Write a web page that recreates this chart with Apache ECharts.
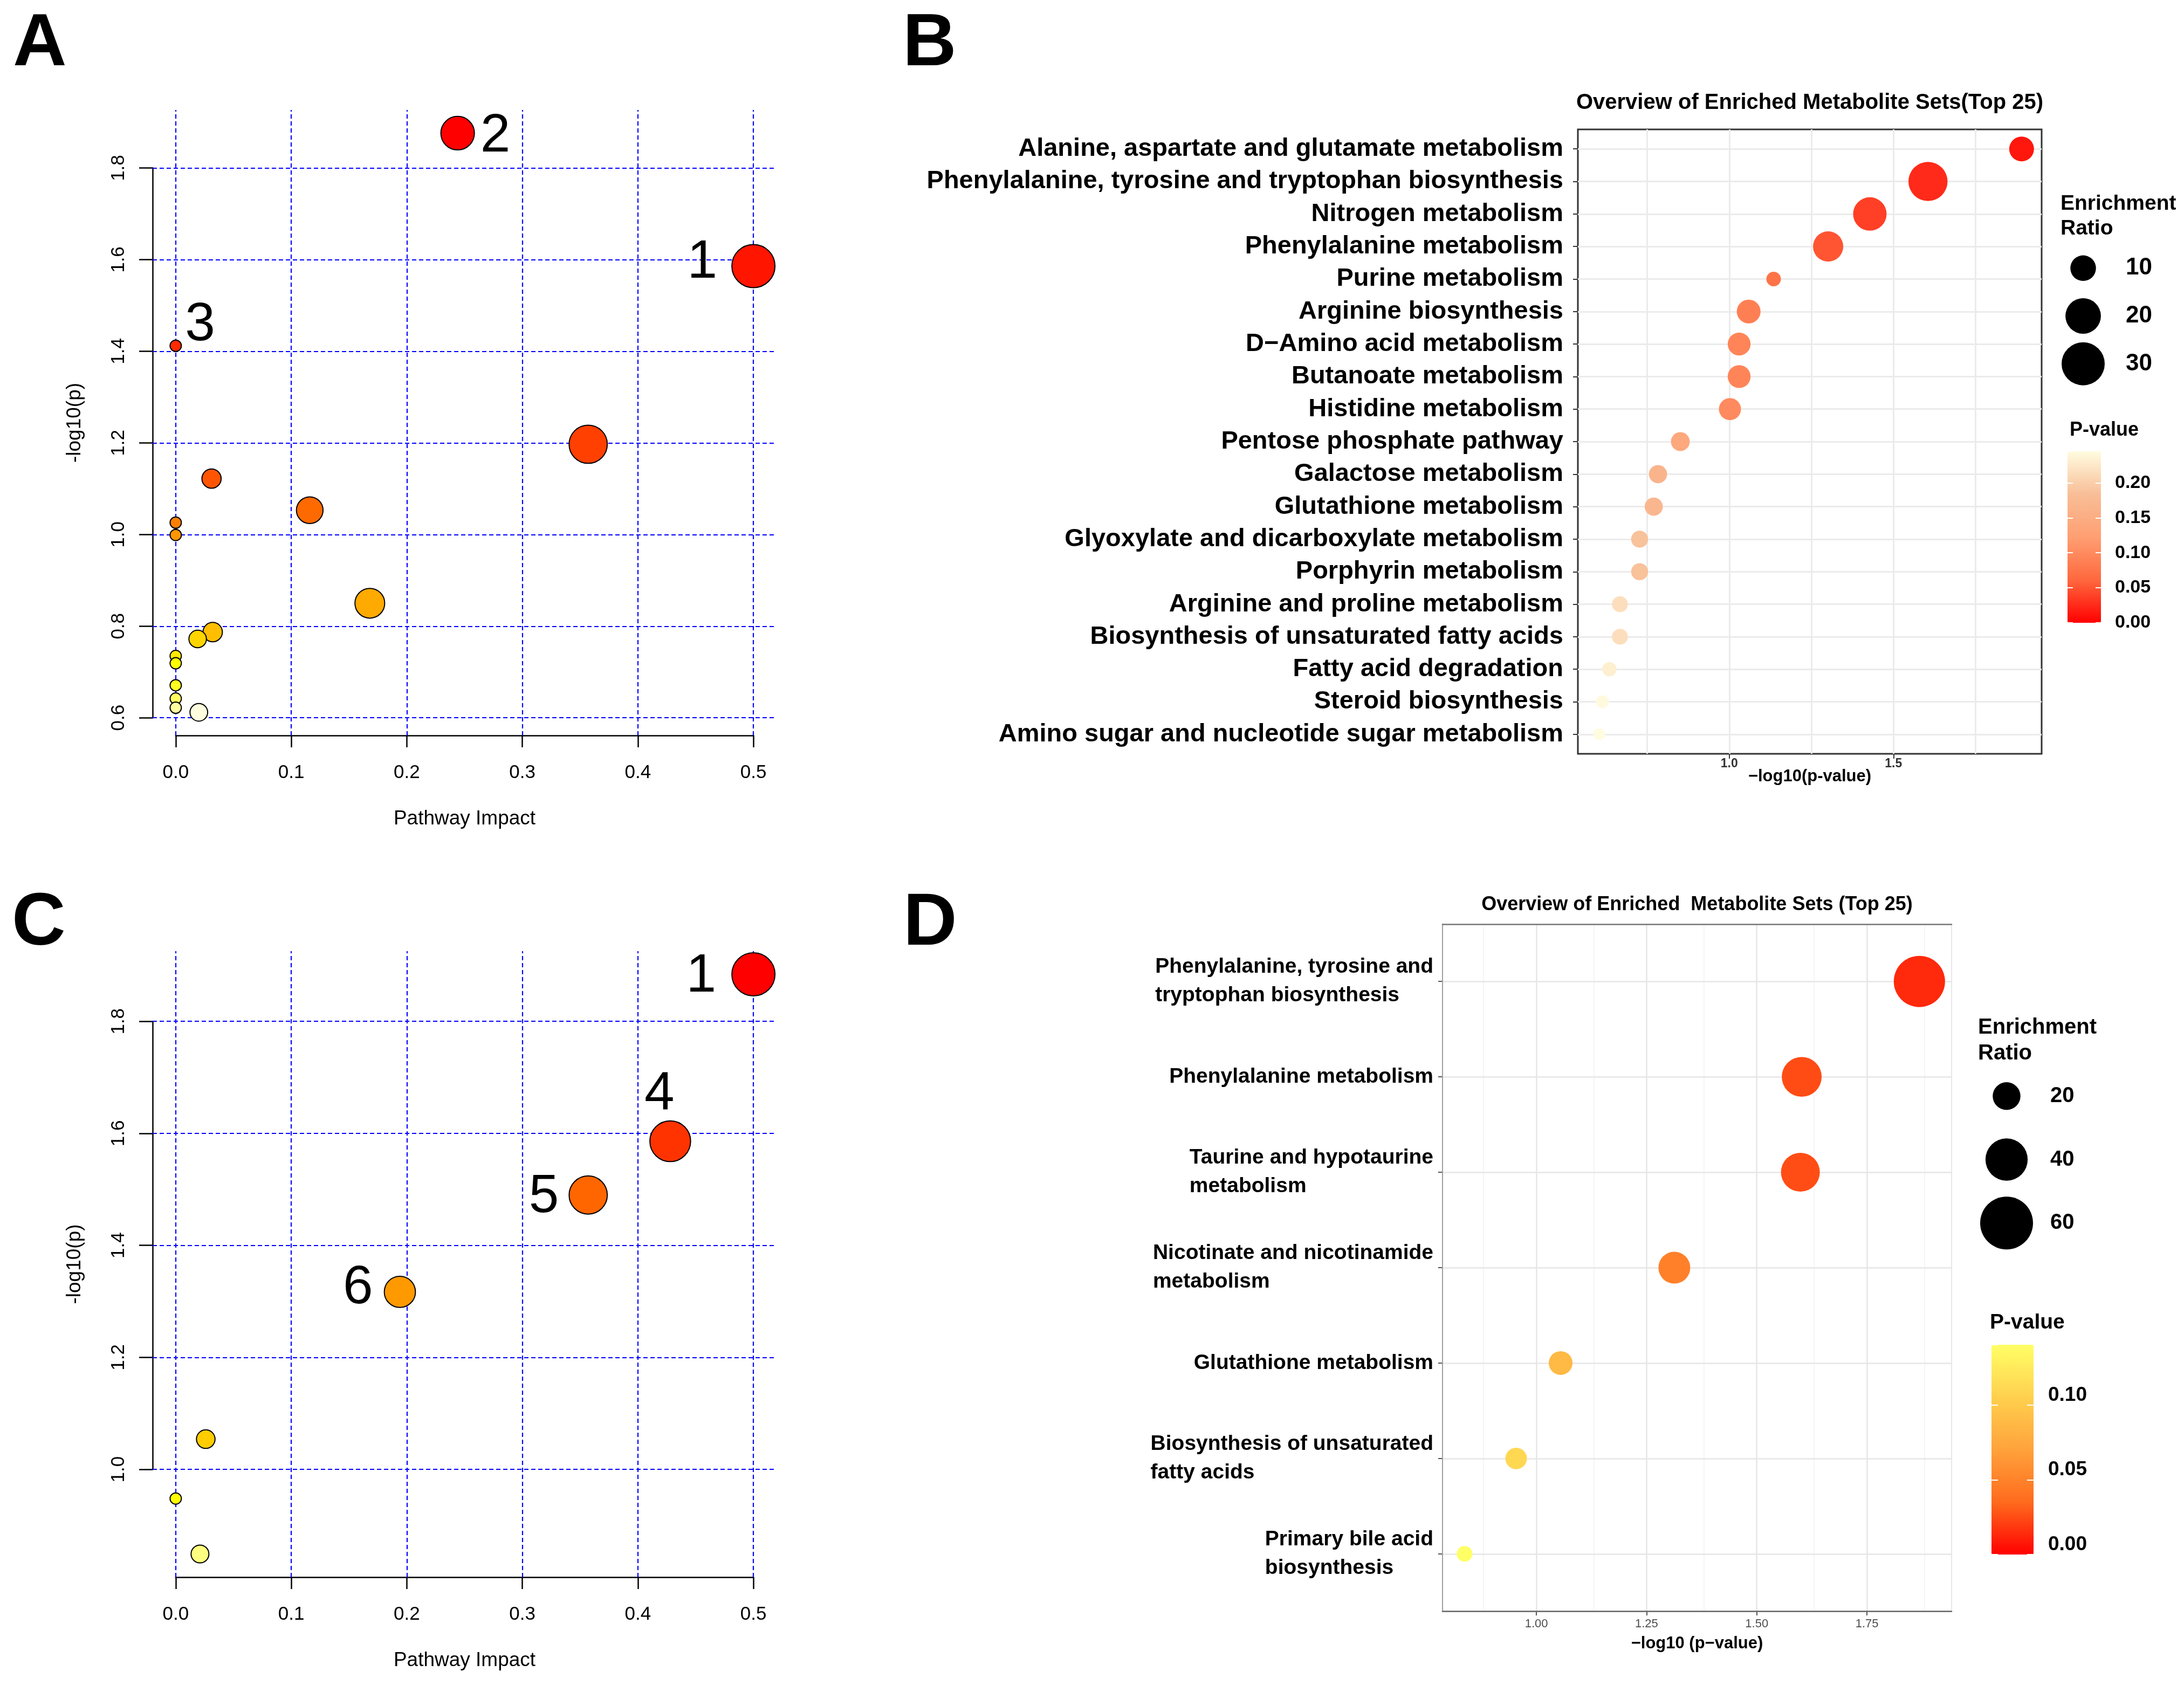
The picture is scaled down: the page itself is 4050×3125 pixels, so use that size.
<!DOCTYPE html>
<html>
<head>
<meta charset="utf-8">
<script src="https://cdn.jsdelivr.net/npm/echarts@6/dist/echarts.min.js"></script>
<style>
html,body{margin:0;padding:0;background:#fff;}
#c{width:4050px;height:3125px;}
</style>
</head>
<body>
<div id="c"></div>
<script>
// ================= DATA =================
// Panel A : pathway impact plot
const impactA = [0.500, 0.244, 0.000, 0.357, 0.031, 0.116, 0.000, 0.000, 0.168, 0.032, 0.019, 0.000, 0.000, 0.000, 0.000, 0.000, 0.020];
const logpA   = [1.586, 1.876, 1.412, 1.197, 1.122, 1.053, 1.026, 0.999, 0.850, 0.787, 0.772, 0.735, 0.719, 0.671, 0.642, 0.622, 0.612];
const tagA    = ['1', '2', '3', '', '', '', '', '', '', '', '', '', '', '', '', '', ''];
const xTicksA = [0.0, 0.1, 0.2, 0.3, 0.4, 0.5];
const yTicksA = [0.6, 0.8, 1.0, 1.2, 1.4, 1.6, 1.8];

// Panel C : pathway impact plot
const impactC = [0.500, 0.428, 0.357, 0.194, 0.026, 0.000, 0.021];
const logpC   = [1.884, 1.586, 1.490, 1.317, 1.054, 0.948, 0.849];
const tagC    = ['1', '4', '5', '6', '', '', ''];
const xTicksC = [0.0, 0.1, 0.2, 0.3, 0.4, 0.5];
const yTicksC = [1.0, 1.2, 1.4, 1.6, 1.8];

// Panel B : enrichment overview
const catsB = [
  'Alanine, aspartate and glutamate metabolism',
  'Phenylalanine, tyrosine and tryptophan biosynthesis',
  'Nitrogen metabolism',
  'Phenylalanine metabolism',
  'Purine metabolism',
  'Arginine biosynthesis',
  'D\u2212Amino acid metabolism',
  'Butanoate metabolism',
  'Histidine metabolism',
  'Pentose phosphate pathway',
  'Galactose metabolism',
  'Glutathione metabolism',
  'Glyoxylate and dicarboxylate metabolism',
  'Porphyrin metabolism',
  'Arginine and proline metabolism',
  'Biosynthesis of unsaturated fatty acids',
  'Fatty acid degradation',
  'Steroid biosynthesis',
  'Amino sugar and nucleotide sugar metabolism'
];
const logpB  = [1.890, 1.605, 1.428, 1.301, 1.135, 1.059, 1.030, 1.030, 1.002, 0.851, 0.783, 0.770, 0.727, 0.727, 0.667, 0.667, 0.635, 0.614, 0.604];
const ratioB = [9.3, 24.5, 17.7, 14.3, 2.6, 8.5, 7.8, 7.8, 7.2, 5.0, 4.6, 4.6, 3.9, 3.9, 3.3, 3.3, 2.5, 1.9, 1.4];
const xLabelsB  = [1.0, 1.5];
const xGridB    = [0.75, 1.0, 1.25, 1.5, 1.75];
const sizeKeysB = [10, 20, 30];
const pTicksB   = [0.00, 0.05, 0.10, 0.15, 0.20];

// Panel D : enrichment overview
const catsD = [
  'Phenylalanine, tyrosine and\ntryptophan biosynthesis',
  'Phenylalanine metabolism',
  'Taurine and hypotaurine\nmetabolism',
  'Nicotinate and nicotinamide\nmetabolism',
  'Glutathione metabolism',
  'Biosynthesis of unsaturated\nfatty acids',
  'Primary bile acid\nbiosynthesis'
];
const logpD  = [1.869, 1.602, 1.599, 1.313, 1.055, 0.954, 0.837];
const ratioD = [56.7, 36.2, 34.6, 24.8, 15.9, 13.9, 9.6];
const xLabelsD     = [1.00, 1.25, 1.50, 1.75];
const xGridMajorD  = [1.00, 1.25, 1.50, 1.75];
const xGridMinorD  = [0.875, 1.125, 1.375, 1.625, 1.875];
const sizeKeysD    = [20, 40, 60];
const pTicksD      = [0.00, 0.05, 0.10];

// ================= HELPERS =================
const FONT = '"Liberation Sans", Arial, Helvetica, sans-serif';
const grids = [], xAxes = [], yAxes = [], series = [], titles = [], visualMaps = [];
function addGrid(g){ grids.push(Object.assign({containLabel:false, outerBoundsMode:'none'}, g)); return grids.length - 1; }
function pushX(a){ xAxes.push(a); return xAxes.length - 1; }
function pushY(a){ yAxes.push(a); return yAxes.length - 1; }
function pushS(s){ series.push(s); return series.length - 1; }
function ext(arr, f){ const mn = Math.min(...arr), mx = Math.max(...arr), d = (mx - mn) * f; return [mn - d, mx + d]; }
const step = t => +(t[1] - t[0]).toFixed(6);
const hidden = {axisLine:{show:false, onZero:false}, axisTick:{show:false}, axisLabel:{show:false}, splitLine:{show:false}};

function hsv2hex(h, s, v){
  const i = Math.floor(h * 6), f = h * 6 - i;
  const p = v * (1 - s), q = v * (1 - f * s), t = v * (1 - (1 - f) * s);
  let r, g, b;
  switch (i % 6){
    case 0: r=v; g=t; b=p; break; case 1: r=q; g=v; b=p; break;
    case 2: r=p; g=v; b=t; break; case 3: r=p; g=q; b=v; break;
    case 4: r=t; g=p; b=v; break; default: r=v; g=p; b=q;
  }
  return '#' + [r, g, b].map(x => Math.round(x * 255).toString(16).padStart(2, '0')).join('');
}
// R's heat.colors(n)
function heatColors(n){
  const j = Math.floor(n / 4), i = n - j, cols = [];
  for (let k = 0; k < i; k++) cols.push(hsv2hex(i > 1 ? (k / (i - 1)) / 6 : 0, 1, 1));
  const s0 = 1 - 1 / (2 * j), s1 = 1 / (2 * j);
  for (let k = 0; k < j; k++) cols.push(hsv2hex(1 / 6, j > 1 ? s0 - k * (s0 - s1) / (j - 1) : s0, 1));
  return cols;
}

function addTitle(text, left, top, style, align){
  titles.push({text, left, top, padding:0, textAlign: align || 'left',
    textStyle: Object.assign({fontFamily:FONT, color:'#000', fontWeight:'bold'}, style)});
}
function gridLines(lineStyle, data){
  return {silent:true, animation:false, z:1, symbol:['none','none'], label:{show:false}, emphasis:{disabled:true},
    lineStyle:lineStyle, data:data};
}

// ================= R-STYLE PANELS (A, C) =================
function rPanel(o){
  const L = o.left, T = o.top, W = o.width, H = o.height;
  const xr = ext(o.impact, 0.04), yr = ext(o.logp, 0.04);
  const nameStyle = {fontSize:37, color:'#000', fontFamily:FONT};
  const gP = addGrid({left:L, top:T, width:W, height:H});
  const xP = pushX(Object.assign({gridIndex:gP, type:'value', min:xr[0], max:xr[1],
    name:'Pathway Impact', nameLocation:'middle', nameGap:136, nameTextStyle:nameStyle}, hidden));
  const yP = pushY(Object.assign({gridIndex:gP, type:'value', min:yr[0], max:yr[1],
    name:'-log10(p)', nameLocation:'middle', nameRotate:90, nameGap:126, nameTextStyle:nameStyle}, hidden));

  const px = v => L + (v - xr[0]) / (xr[1] - xr[0]) * W;
  const py = v => T + H - (v - yr[0]) / (yr[1] - yr[0]) * H;
  const xt = o.xTicks, yt = o.yTicks;
  const aL = px(xt[0]), aR = px(xt[xt.length - 1]), aT = py(yt[yt.length - 1]), aB = py(yt[0]);
  const gA = addGrid({left:aL, top:aT, width:aR - aL, height:aB - aT});
  const axLine = {show:true, onZero:false, lineStyle:{color:'#000', width:2.5}};
  pushX({gridIndex:gA, type:'value', min:xt[0], max:xt[xt.length - 1], interval:step(xt), position:'bottom',
    offset:(T + H) - aB, axisLine:axLine,
    axisTick:{show:true, inside:false, length:22, lineStyle:{color:'#000', width:2.5}},
    axisLabel:{margin:52, fontSize:35, lineHeight:35, color:'#000', fontFamily:FONT, formatter:v => v.toFixed(1)},
    splitLine:{show:false}});
  pushY({gridIndex:gA, type:'value', min:yt[0], max:yt[yt.length - 1], interval:step(yt), position:'left',
    offset:aL - L, axisLine:axLine,
    axisTick:{show:true, inside:false, length:25, lineStyle:{color:'#000', width:2.5}},
    axisLabel:{rotate:90, margin:45, fontSize:35, lineHeight:35, color:'#000', fontFamily:FONT, formatter:v => v.toFixed(1)},
    splitLine:{show:false}});

  // dotted blue grid
  pushS({type:'scatter', xAxisIndex:xP, yAxisIndex:yP, data:[], z:1, silent:true,
    markLine:gridLines({color:'#0000FF', width:2.2, type:[8, 5], opacity:1},
      [...xt.map(v => ({xAxis:v})), ...yt.map(v => ({yAxis:v}))])});

  // circles: colour by rank of -log10(p) (heat.colors), radius by sqrt(impact)
  const n = o.impact.length;
  const order = [...Array(n).keys()].sort((a, b) => o.logp[b] - o.logp[a]);
  const heat = heatColors(n);
  const sq = o.impact.map(Math.sqrt), smin = Math.min(...sq), smax = Math.max(...sq);
  const rMin = 10.5, rMax = 40;
  const data = order.map((idx, rank) => {
    const r = rMin + (rMax - rMin) * (sq[idx] - smin) / (smax - smin);
    const tag = o.tags[idx];
    const lab = tag ? Object.assign({show:true, formatter:tag}, o.labelPos[tag] || {}) : {show:false};
    return {value:[o.impact[idx], o.logp[idx]], symbolSize:2 * r, itemStyle:{color:heat[rank]}, label:lab};
  });
  pushS({type:'scatter', xAxisIndex:xP, yAxisIndex:yP, clip:false, z:3, silent:true,
    itemStyle:{borderColor:'#000', borderWidth:2, opacity:1},
    label:{fontSize:100, lineHeight:100, color:'#000', fontFamily:FONT},
    emphasis:{disabled:true}, data});
}

rPanel({left:283, top:204, width:1157, height:1160, impact:impactA, logp:logpA, tags:tagA,
  xTicks:xTicksA, yTicks:yTicksA,
  labelPos:{'1':{position:'left', distance:26, offset:[0,-6]},
            '2':{position:'right', distance:10, offset:[0,6]},
            '3':{position:'right', distance:6, offset:[0,-38]}}});
rPanel({left:283, top:1764, width:1157, height:1161, impact:impactC, logp:logpC, tags:tagC,
  xTicks:xTicksC, yTicks:yTicksC,
  labelPos:{'1':{position:'left', distance:28, offset:[0,4]},
            '4':{position:'top', distance:5, offset:[-20,8]},
            '5':{position:'left', distance:18, offset:[0,4]},
            '6':{position:'left', distance:20, offset:[0,-6]}}});

// ================= GGPLOT-STYLE PANELS (B, D) =================
function ggPanel(o){
  const L = o.left, T = o.top, W = o.width, H = o.height, n = o.cats.length;
  const s = H / (n - 1 + 1.2);
  const gO = addGrid({left:L, top:T, width:W, height:H, show:true, borderColor:o.borderColor, borderWidth:o.borderWidth, backgroundColor:'transparent'});
  const xO = pushX({gridIndex:gO, type:'value', min:o.xlim[0], max:o.xlim[1], z:5,
    axisLine:o.bottomLine || {show:false, onZero:false}, axisTick:{show:false}, axisLabel:{show:false}, splitLine:{show:false},
    name:o.xName, nameLocation:'middle', nameGap:o.xNameGap, nameTextStyle:o.xNameStyle});
  if (o.topLine) pushX(Object.assign({gridIndex:gO, type:'value', min:o.xlim[0], max:o.xlim[1], position:'top', z:5}, hidden, {axisLine:o.topLine}));
  const yO = pushY(Object.assign({gridIndex:gO, type:'value', min:0, max:1, z:5}, hidden, o.leftLine ? {axisLine:o.leftLine} : {}));
  // vertical grid lines
  const vLines = [];
  (o.gridMinor || []).forEach(v => vLines.push({xAxis:v, lineStyle:o.minorStyle}));
  o.gridMajor.forEach(v => vLines.push({xAxis:v, lineStyle:o.majorStyle}));
  pushS({type:'scatter', xAxisIndex:xO, yAxisIndex:yO, data:[], z:1, silent:true,
    markLine:gridLines(o.majorStyle, vLines)});

  // inner category grid
  const gI = addGrid({left:L, top:T + 0.1 * s, width:W, height:n * s});
  const xI = pushX(Object.assign({gridIndex:gI, type:'value', min:o.xlim[0], max:o.xlim[1]}, hidden));
  const yI = pushY({gridIndex:gI, type:'category', data:o.cats, inverse:true, boundaryGap:true,
    axisLine:{show:false, onZero:false},
    axisTick:{show:true, alignWithLabel:true, inside:false, length:o.tickLen, lineStyle:{color:o.tickColor, width:2}},
    axisLabel:o.catLabel, splitLine:{show:false}});
  pushS({type:'scatter', xAxisIndex:xI, yAxisIndex:yI, data:[], z:1, silent:true,
    markLine:gridLines(o.majorStyle, o.cats.map((c, i) => ({yAxis:i})))});
  const ptIdx = pushS({type:'scatter', xAxisIndex:xI, yAxisIndex:yI, clip:false, z:3, silent:true,
    symbolSize:v => o.sizeFn(v[3]), itemStyle:{opacity:1}, emphasis:{disabled:true},
    data:o.cats.map((c, i) => [o.logp[i], c, Math.pow(10, -o.logp[i]), o.ratio[i]])});

  // x tick labels
  const px = v => L + (v - o.xlim[0]) / (o.xlim[1] - o.xlim[0]) * W;
  const xl = o.xLabels;
  const gL = addGrid({left:px(xl[0]), top:T, width:px(xl[xl.length - 1]) - px(xl[0]), height:H});
  pushX({gridIndex:gL, type:'value', min:xl[0], max:xl[xl.length - 1], interval:step(xl), position:'bottom',
    axisLine:{show:false, onZero:false}, axisTick:{show:true, inside:false, length:o.tickLen, lineStyle:{color:o.tickColor, width:2}},
    axisLabel:o.xTickLabel, splitLine:{show:false}});
  pushY(Object.assign({gridIndex:gL, type:'value', min:0, max:1}, hidden));

  // size legend
  const k = o.sizeKeys, g = o.sizeLegend;
  const gS = addGrid({left:g.cx - 50, top:g.top, width:100, height:g.height});
  const xS = pushX(Object.assign({gridIndex:gS, type:'value', min:-1, max:1}, hidden));
  const yS = pushY({gridIndex:gS, type:'category', data:k.map(String), inverse:true, position:'right',
    axisLine:{show:false, onZero:false}, axisTick:{show:false}, splitLine:{show:false},
    axisLabel:{margin:g.labelMargin, fontSize:g.fontSize, fontWeight:'bold', color:'#000', fontFamily:FONT, align:'left'}});
  pushS({type:'scatter', xAxisIndex:xS, yAxisIndex:yS, silent:true, clip:false, z:3,
    symbolSize:v => o.sizeFn(v[2]), itemStyle:{color:'#000', opacity:1},
    data:k.map(v => [0, String(v), v])});

  // colour bar
  const cb = o.colorbar;
  visualMaps.push({type:'continuous', seriesIndex:ptIdx, dimension:2, min:0, max:cb.max,
    left:cb.left, top:cb.top, itemWidth:cb.width, itemHeight:cb.height, padding:0,
    calculable:false, realtime:false, hoverLink:false, text:null, orient:'vertical',
    inRange:{color:cb.colors}, outOfRange:{color:cb.colors[cb.colors.length - 1]}});
  const gC = addGrid({left:cb.left, top:cb.top, width:cb.width, height:cb.height});
  pushX(Object.assign({gridIndex:gC, type:'value', min:0, max:1}, hidden));
  const pt = cb.ticks, pi = step(pt);
  const fmt = v => Math.abs(v / pi - Math.round(v / pi)) < 1e-6 && v <= pt[pt.length - 1] + 1e-9 ? v.toFixed(2) : '';
  const whiteTick = {show:true, inside:true, length:cb.tickLen, lineStyle:{color:'#fff', width:2}};
  pushY({gridIndex:gC, type:'value', min:0, max:cb.max, interval:pi, position:'right', z:10,
    axisLine:{show:false, onZero:false}, axisTick:whiteTick, splitLine:{show:false},
    axisLabel:Object.assign({margin:cb.labelMargin, fontSize:cb.fontSize, fontWeight:'bold', color:'#000', fontFamily:FONT,
      formatter:fmt, showMaxLabel:false}, cb.labelExtra || {})});
  pushY({gridIndex:gC, type:'value', min:0, max:cb.max, interval:pi, position:'left', z:10,
    axisLine:{show:false, onZero:false}, axisTick:whiteTick, axisLabel:{show:false}, splitLine:{show:false}});
}

// ---- Panel B
ggPanel({
  left:2926, top:240, width:860, height:1158, xlim:[0.539, 1.951],
  cats:catsB, logp:logpB, ratio:ratioB,
  sizeFn:er => Math.sqrt(186 + 207 * er),
  borderColor:'#333', borderWidth:3,
  gridMajor:xGridB, majorStyle:{color:'#EBEBEB', width:3, type:'solid'},
  xName:'\u2212log10(p-value)', xNameGap:27, xNameStyle:{fontSize:31, fontWeight:'bold', color:'#000', fontFamily:FONT},
  tickLen:9, tickColor:'#333',
  catLabel:{interval:0, margin:27, fontSize:47, fontWeight:'bold', color:'#000', fontFamily:FONT},
  xLabels:xLabelsB,
  xTickLabel:{margin:7, fontSize:23, lineHeight:23, fontWeight:'bold', color:'#333', fontFamily:FONT, formatter:v => v.toFixed(1)},
  sizeKeys:sizeKeysB, sizeLegend:{cx:3863, top:453, height:266, labelMargin:29, fontSize:44},
  colorbar:{left:3834, top:837, width:62, height:318, max:0.245, ticks:pTicksB, tickLen:10, labelMargin:26, fontSize:34,
    colors:['#FF0000', '#FF683E', '#FF9F72', '#F8BE97', '#FFFCE0']}
});
addTitle('Overview of Enriched Metabolite Sets(Top 25)', 3356, 171, {fontSize:40, lineHeight:40}, 'center');
addTitle('Enrichment\nRatio', 3821, 355, {fontSize:39, lineHeight:46});
addTitle('P-value', 3838, 778, {fontSize:36, lineHeight:40});

// ---- Panel D
ggPanel({
  left:2675, top:1714, width:944, height:1274, xlim:[0.787, 1.942],
  cats:catsD, logp:logpD, ratio:ratioD,
  sizeFn:er => Math.sqrt(Math.max(0, -824 + 173.8 * er)),
  borderColor:'#E8E8E8', borderWidth:2,
  bottomLine:{show:true, onZero:false, lineStyle:{color:'#666', width:2.5}},
  topLine:{show:true, onZero:false, lineStyle:{color:'#777', width:2.5}},
  leftLine:{show:true, onZero:false, lineStyle:{color:'#A0A0A0', width:2}},
  gridMajor:xGridMajorD, gridMinor:xGridMinorD,
  majorStyle:{color:'#E6E6E6', width:2.5, type:'solid'}, minorStyle:{color:'#F2F2F2', width:1.5, type:'solid'},
  xName:'\u2212log10 (p\u2212value)', xNameGap:45, xNameStyle:{fontSize:31, fontWeight:'bold', color:'#000', fontFamily:FONT},
  tickLen:8, tickColor:'#555',
  catLabel:{interval:0, margin:17, color:'#000', fontFamily:FONT,
    formatter:v => v.split('\n').map(l => '{l|' + l + '}').join('\n'),
    rich:{l:{align:'left', fontSize:39, fontWeight:'bold', lineHeight:53, color:'#000', fontFamily:FONT}}},
  xLabels:xLabelsD,
  xTickLabel:{margin:13, fontSize:22, lineHeight:22, color:'#4D4D4D', fontFamily:FONT, formatter:v => v.toFixed(2)},
  sizeKeys:sizeKeysD, sizeLegend:{cx:3721, top:1974, height:353, labelMargin:31, fontSize:40},
  colorbar:{left:3693, top:2494, width:78, height:389, max:0.1405, ticks:pTicksD, tickLen:12, labelMargin:27, fontSize:37,
    labelExtra:{verticalAlign:'bottom'},
    colors:['#FF0000', '#FF6B1D', '#FFA23B', '#FFD04E', '#FFFF66']}
});
addTitle('Overview of Enriched  Metabolite Sets (Top 25)', 3147, 1658, {fontSize:36, lineHeight:40}, 'center');
addTitle('Enrichment\nRatio', 3668, 1882, {fontSize:40, lineHeight:48});
addTitle('P-value', 3690, 2433, {fontSize:39, lineHeight:40});

// ---- Panel letters
addTitle('A', 24, 14, {fontSize:138, lineHeight:138});
addTitle('B', 1674, 14, {fontSize:138, lineHeight:138});
addTitle('C', 22, 1645, {fontSize:138, lineHeight:138});
addTitle('D', 1675, 1645, {fontSize:138, lineHeight:138});

// ================= RENDER =================
const chart = echarts.init(document.getElementById('c'), null, {renderer:'canvas', width:4050, height:3125});
chart.setOption({
  backgroundColor:'#ffffff',
  animation:false,
  textStyle:{fontFamily:FONT},
  title:titles,
  grid:grids,
  xAxis:xAxes,
  yAxis:yAxes,
  visualMap:visualMaps,
  series:series
});
</script>
</body>
</html>
